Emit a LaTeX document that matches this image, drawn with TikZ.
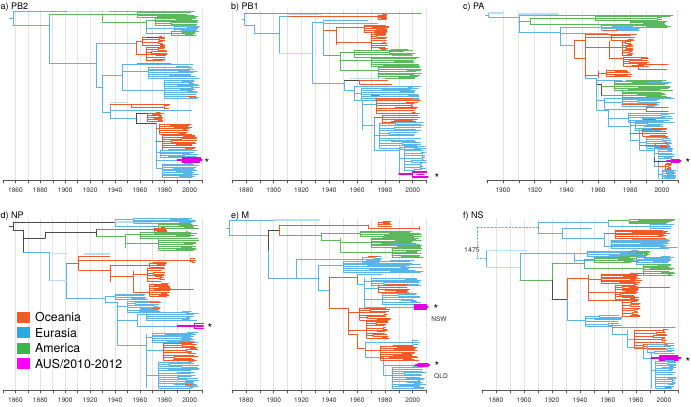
\documentclass[tikz,border=0pt]{standalone}
\usepackage{fontspec}
\setmainfont{TeX Gyre Heros}
\definecolor{ocC}{HTML}{F05A28}
\definecolor{euC}{HTML}{5AB4E5}
\definecolor{eulC}{HTML}{B8DEF3}
\definecolor{amC}{HTML}{5CB85C}
\definecolor{auC}{HTML}{E000E0}
\definecolor{dkC}{HTML}{4A4A4A}
\definecolor{grC}{HTML}{E4E4E4}
\definecolor{axC}{HTML}{555555}
\definecolor{ocL}{HTML}{F15A29}
\definecolor{euL}{HTML}{29ABE2}
\definecolor{amL}{HTML}{39B54A}
\definecolor{auL}{HTML}{FF00FF}
\tikzset{
  eu/.style={draw=euC, line width=0.5pt},
  eul/.style={draw=eulC, line width=1.2pt},
  am/.style={draw=amC, line width=0.5pt},
  oc/.style={draw=ocC, line width=0.8pt},
  au/.style={draw=auC, line width=1.1pt},
  dk/.style={draw=dkC, line width=0.7pt},
  gridl/.style={draw=grC, line width=0.6pt},
  axl/.style={draw=axC, line width=0.5pt},
  lab/.style={font=\fontsize{6.6}{7}\selectfont, text=black!80, inner sep=0pt},
  ttl/.style={font=\fontsize{9}{10}\selectfont, anchor=base west, inner sep=0pt},
  ast/.style={font=\fontsize{12}{12}\selectfont, anchor=base, inner sep=0pt},
  legt/.style={font=\fontsize{12.3}{13}\selectfont, anchor=base west, inner sep=0pt}
}
\newcommand\bush[6]{%
  \draw[#1] (#2,#3) -- (#2,#4);
  \pgfmathtruncatemacro\bn{#6}%
  \foreach \bk in {0,...,\bn}{%
    \pgfmathsetmacro\byy{#3+(#4-#3)*\bk/\bn}%
    \pgfmathsetmacro\bxm{#2+(#5-#2)*(0.2+0.6*rnd)}%
    \pgfmathsetmacro\bhh{(#4-#3)/\bn*0.3}%
    \pgfmathsetmacro\bxa{#5-(#5-#2)*0.22*rnd}%
    \pgfmathsetmacro\bxb{#5-(#5-#2)*0.22*rnd}%
    \pgfmathtruncatemacro\bsp{rnd<0.3?0:1}%
    \ifnum\bsp=1
    \draw[#1] (#2,\byy) -- (\bxm,\byy) (\bxm,\byy-\bhh) -- (\bxm,\byy+\bhh)
      (\bxm,\byy-\bhh) -- (\bxa,\byy-\bhh) (\bxm,\byy+\bhh) -- (\bxb,\byy+\bhh);
    \else
    \draw[#1] (#2,\byy) -- (\bxa,\byy);
    \fi
  }%
}
\newcommand\paxis[7]{%
  \pgfmathtruncatemacro\gsec{#7+10}%
  \foreach \gx in {#7,\gsec,...,#2}{\draw[gridl] (\gx,#6)--(\gx,#3);}%
  \draw[axl] (#1,#3)--(#2,#3);
  \pgfmathtruncatemacro\tsec{#1+10}%
  \foreach \tx in {#1,\tsec,...,#2}{\draw[axl] (\tx,#3)--(\tx,#3+3);}%
  \pgfmathtruncatemacro\lsec{#4+20}%
  \foreach \lx in {#4,\lsec,...,#5}{\node[lab] at (\lx,#3+10) {\lx};}%
}
\begin{document}
\begin{tikzpicture}[x=1pt,y=-1pt,line cap=round,line join=round]
\useasboundingbox (0,0) rectangle (691,407);
\pgfmathsetseed{4242}

% ================= a) PB2
\begin{scope}[x=1.244pt,xshift=-2298.4pt]
\paxis{1850}{2010}{180}{1860}{2000}{10}{1860}
\draw[eu] (1855,18)--(1858,18) (1858,11)--(1858,25) (1858,11)--(2004,11);
\draw[eul] (1902,11.8)--(1935,11.8);
\draw[eu] (1858,25)--(1887,25) (1887,14)--(1887,63);
\draw[am] (1887,14)--(1958,14) (1930,14)--(1930,22) (1930,22)--(1965,22) (1965,20)--(1965,33) (1965,20)--(1972,20) (1965,33)--(1985,33);
\bush{am}{1958}{12.5}{17}{2007}{3}
\bush{am}{1972}{18}{25}{2007}{4}
\draw[eu] (1965,28)--(1988,28);
\bush{eu}{1988}{25}{31}{2008}{4}
\bush{am}{1985}{31}{35}{2007}{2}
\draw[eu] (1887,63)--(1925,63) (1925,43)--(1925,87) (1925,43)--(1957,43);
\draw[oc] (1957,41)--(1957,54) (1957,41)--(1962,41) (1957,54)--(1965,54);
\bush{oc}{1962}{37}{45}{1980}{3}
\bush{oc}{1965}{47}{60}{1982}{5}
\draw[dk] (1966,37)--(1974,37);
\draw[eu] (1925,87)--(1930,87) (1930,75)--(1930,112) (1930,75)--(1946,75) (1946,64)--(1946,90) (1946,64)--(2003,64) (1946,71)--(1967,71) (1946,90)--(1980,90);
\draw[am] (1958,63)--(1985,63);
\bush{eu}{1967}{67}{78}{2008}{6}
\bush{eu}{1980}{80}{98}{2008}{9}
\draw[oc] (1998,96)--(2005,96);
\draw[eu] (1930,112)--(1936,112) (1936,104)--(1936,118) (1936,110)--(2002,110) (1936,118)--(1957,118);
\draw[eul] (1936,102.5)--(1950,102.5);
\draw[oc] (1936,104)--(1984,104) (1953,104)--(1953,107)--(1980,107) (1980,105.5)--(1980,108.5) (1980,105.5)--(1983,105.5) (1980,108.5)--(1983,108.5);
\draw[dk] (1957,113)--(1957,123) (1957,113)--(1966,113) (1957,123)--(1973,123);
\bush{oc}{1966}{113}{121}{1979}{4}
\draw[eu] (1973,123)--(1973,168) (1973,152)--(1976,152) (1973,160)--(1990,160) (1973,168)--(1978,168);
\draw[oc] (1973,128)--(1976,128) (1973,141)--(1978,141);
\bush{oc}{1976}{124}{134}{2002}{5}
\bush{oc}{1978}{135}{150}{2006}{7}
\bush{eu}{1976}{150}{157}{2007}{4}
\draw[au] (1990,160)--(2010,160) (1994,158)--(1994,162) (1994,158)--(2009,158) (1994,162)--(2008,162);
\bush{eu}{1978}{164}{177}{2008}{8}
\end{scope}
\node[ast] at (207,167) {*};
\node[ttl] at (0.5,9) {a) PB2};

% ================= b) PB1
\begin{scope}[x=1.39pt,xshift=-2367.3pt]
\paxis{1870}{2010}{180}{1880}{2000}{10}{1870}
\draw[eu] (1877,19)--(1879,19) (1879,13)--(1879,25);
\draw[am] (1879,13)--(2006,13);
\draw[eu] (1879,25)--(1886,25) (1886,25)--(1886,33) (1886,33)--(1904,33) (1904,16)--(1904,53) (1904,16)--(1911,16) (1904,53)--(1928,53) (1928,22)--(1928,83);
\draw[eul] (1911,14.8)--(1934,14.8) (1904,53.8)--(1928,53.8);
\draw[oc] (1911,16)--(1981,16);
\bush{oc}{1975}{15}{19}{1982}{2}
\draw[eu] (1928,22)--(1936,22) (1936,20)--(1936,55) (1936,20)--(1968,20) (1936,23.5)--(1975,23.5);
\draw[oc] (1936,30)--(1945,30) (1945,27)--(1945,45) (1945,27)--(1965,27) (1945,42)--(1970,42);
\bush{oc}{1965}{25}{32}{1984}{4}
\bush{oc}{1970}{34}{50}{1982}{7}
\draw[am] (1936,55)--(1948,55) (1948,52)--(1948,70) (1948,52)--(1958,52) (1948,70)--(1975,70) (1948,60)--(1970,60);
\bush{am}{1958}{50}{57}{2003}{3}
\bush{am}{1970}{58}{66}{2007}{4}
\bush{am}{1975}{66}{78}{2007}{7}
\draw[eu] (1985,55)--(2000,55);
\draw[eu] (1928,83)--(1951,83) (1951,80)--(1951,90) (1951,90)--(1958,90) (1958,86)--(1958,100) (1958,86)--(2006,86) (1958,93)--(1963,93) (1958,100)--(1964,100) (1964,100)--(1964,130) (1964,104)--(1974,104) (1964,125)--(1972,125) (1972,117)--(1972,150) (1972,135)--(1976,135) (1972,150)--(1990,150) (1990,147)--(1990,174) (1990,158)--(1994,158);
\draw[dk] (1951,80)--(1962,80);
\draw[eul] (1955,78.5)--(1980,78.5);
\draw[oc] (1962,80)--(1982,80) (1962,80)--(1962,84) (1962,84)--(1985,84) (1970,95)--(1976,95) (1972,117)--(1978,117);
\bush{eu}{1963}{88}{100}{2006}{6}
\bush{oc}{1974}{98}{113}{2006}{6}
\bush{oc}{1978}{115}{122}{2006}{3}
\bush{eu}{1976}{123}{148}{2008}{10}
\bush{eu}{1994}{147}{170}{2010}{8}
\draw[au] (1990,174)--(2000,174) (2000,172)--(2000,177) (2000,172)--(2010,172) (2000,177)--(2011,177) (2003,174.5)--(2008,174.5);
\end{scope}
\node[ast] at (437,182) {*};
\node[ttl] at (231,9) {b) PB1};

% ================= c) PA
\begin{scope}[x=1.59pt,xshift=-2518.1pt]
\paxis{1890}{2010}{180}{1900}{2000}{10}{1900}
\draw[eu] (1889,15)--(1891,15) (1891,13)--(1891,17) (1891,13)--(1898,13) (1891,17)--(1910,17) (1910,15)--(1910,32) (1910,15)--(1927,15);
\draw[eul] (1891,13)--(1900,13) (1910,14)--(1935,14);
\draw[am] (1927,15)--(2007,15) (1910,21)--(1917,21) (1917,18)--(1917,24) (1917,18)--(1958,18) (1917,24)--(1980,24);
\bush{am}{1958}{16.5}{20}{2007}{2}
\bush{am}{1980}{21}{27}{2007}{4}
\draw[eu] (1910,32)--(1936,32) (1936,27)--(1936,45) (1936,27)--(1962,27) (1936,45)--(1945,45) (1936,33)--(1966,33);
\bush{eu}{1962}{25.5}{30}{1986}{3}
\draw[oc] (1963,30.5)--(1972,30.5);
\draw[oc] (1945,40)--(1945,58) (1945,40)--(1952,40) (1952,34)--(1952,78) (1952,34)--(1984,34) (1952,37)--(1968,37) (1952,47)--(1967,47) (1967,41)--(1967,58) (1967,47)--(1975,47) (1967,58)--(1976,58) (1952,75)--(1960,75) (1960,71)--(1960,78) (1945,58)--(1952,58);
\bush{oc}{1968}{35}{40}{1983}{2}
\bush{oc}{1975}{40}{55}{1982}{6}
\bush{oc}{1976}{57}{66}{1992}{4}
\draw[oc] (1976,66)--(1985,66) (1985,64)--(1985,69) (1985,64)--(2004,64) (1985,69)--(2003,69) (1960,73)--(1965,73);
\bush{oc}{1965}{70}{76}{1981}{3}
\draw[eu] (1952,78)--(1959,78) (1959,78)--(1959,110) (1959,80)--(1975,80) (1959,100)--(1964,100) (1964,98)--(1964,109) (1964,98)--(2008,98) (1964,102)--(1975,102) (1964,109)--(1990,109);
\draw[dk] (1959,84)--(1962,84) (1962,84)--(1962,96);
\draw[am] (1962,86)--(1970,86) (1962,95)--(1975,95);
\bush{am}{1970}{81}{90}{2007}{5}
\bush{am}{1975}{90}{97}{2006}{4}
\draw[eu] (1990,82)--(2006,82);
\bush{eu}{1975}{99}{106}{2000}{3}
\draw[oc] (1975,104.5)--(1996,104.5) (1990,107)--(1990,111) (1990,107)--(2004,107) (1990,111)--(2004,111);
\draw[eu] (1959,110)--(1966,110) (1966,110)--(1966,126) (1966,118)--(1979,118) (1966,126)--(1980,126) (1980,120)--(1980,140) (1980,125)--(1983,125) (1980,140)--(1986,140) (1986,128)--(1986,150) (1986,142)--(1990,142) (1986,150)--(1995,150) (1995,146)--(1995,166) (1995,153)--(1998,153) (1995,166)--(1998,166) (1998,160)--(1998,178) (1998,174)--(2000,174);
\bush{eu}{1979}{113}{122}{2008}{4}
\bush{eu}{1983}{121}{130}{2003}{4}
\draw[oc] (1988,119)--(1996,119) (1980,133)--(1988,133) (1998,166)--(2002,166);
\bush{oc}{1988}{129}{136}{2004}{3}
\bush{eu}{1990}{137}{148}{2007}{5}
\draw[oc] (1986,145)--(1996,145);
\bush{oc}{1996}{143}{147}{2004}{2}
\bush{eu}{1998}{148}{158}{2008}{6}
\draw[dk] (1995,161)--(2003,161) (1995,158)--(1995,161);
\draw[au] (2003,161)--(2012,161) (2006,159.5)--(2006,162.5) (2006,159.5)--(2011,159.5) (2006,162.5)--(2011,162.5);
\bush{oc}{2002}{164}{169}{2006}{2}
\bush{eu}{2000}{170}{178}{2009}{5}
\end{scope}
\node[ast] at (688,167) {*};
\node[ttl] at (463,9) {c) PA};

% ================= d) NP
\begin{scope}[x=1.244pt,xshift=-2298.4pt]
\paxis{1850}{2010}{390}{1860}{2000}{219}{1860}
\draw[dk] (1855,226)--(1858,226) (1858,222)--(1858,230) (1858,222)--(1940,222) (1858,230)--(1866,230) (1866,230)--(1866,252) (1866,238)--(1884,238) (1884,232)--(1884,238) (1884,232)--(1925,232) (1925,229)--(1925,236);
\draw[eu] (1940,219)--(1940,226) (1940,219)--(1955,219) (1940,226)--(1975,226);
\draw[eul] (1940,222)--(1970,222);
\bush{eu}{1955}{218.5}{223}{2008}{3}
\bush{am}{1975}{223}{228}{2008}{3}
\draw[oc] (1925,229)--(1981,229);
\bush{oc}{1972}{228}{232}{1982}{2}
\draw[am] (1925,236)--(1948,236) (1948,234)--(1948,248) (1948,234)--(1960,234) (1948,243)--(1975,243);
\bush{am}{1960}{232}{238}{2007}{3}
\bush{am}{1975}{238}{250}{2008}{6}
\draw[eu] (1866,252)--(1887,252) (1887,252)--(1887,280) (1887,253)--(1902,253) (1887,280)--(1901,280) (1901,263)--(1901,298) (1901,298)--(1932,298);
\draw[eul] (1887,253.8)--(1902,253.8) (1887,280.8)--(1901,280.8) (1915,254)--(1936,254);
\draw[oc] (1901,263)--(1911,263) (1911,256)--(1911,270) (1911,256)--(1936,256) (1911,260)--(2003,260) (1911,270)--(1936,270) (1936,265)--(1936,282) (1936,265)--(1968,265) (1936,276)--(1955,276) (1955,271)--(1955,292) (1955,274)--(1966,274) (1955,292)--(1968,292) (1985,289)--(2003,289);
\bush{oc}{2001}{258.5}{261.5}{2005}{1}
\bush{oc}{1968}{263}{267}{1982}{2}
\bush{oc}{1966}{268}{281}{1980}{5}
\bush{oc}{1968}{284}{296}{1985}{6}
\draw[eu] (1932,296)--(1932,302) (1932,296)--(1940,296) (1932,302)--(1942,302) (1942,302)--(1942,345) (1942,306)--(1950,306) (1942,320)--(1958,320) (1958,314)--(1958,326) (1958,314)--(1965,314) (1958,326)--(1990,326) (1942,345)--(1965,345) (1965,334)--(1965,388) (1965,337)--(1970,337) (1965,350)--(1979,350) (1965,375)--(1975,375);
\bush{eu}{1940}{294}{299}{1968}{3}
\bush{eu}{1950}{301}{312}{1978}{5}
\draw[oc] (1968,302)--(1976,302) (1970,308)--(1976,308) (1977,320)--(1984,320);
\bush{eu}{1965}{312}{320}{2008}{4}
\draw[au] (1990,326)--(2011,326) (2004,323.5)--(2004,328.5) (2004,323.5)--(2011,323.5) (2004,328.5)--(2011,328.5);
\bush{eu}{1970}{333}{342}{2008}{5}
\bush{oc}{1979}{343}{360}{2007}{7}
\bush{eu}{1975}{362}{388}{2008}{12}
\draw[oc] (1997,384)--(2002,384);
\end{scope}
\node[ast] at (210,332) {*};
\node[ttl] at (0.5,218) {d) NP};

% ================= e) M
\begin{scope}[x=1.39pt,xshift=-2367.3pt]
\paxis{1870}{2010}{390}{1880}{2000}{219}{1870}
\draw[eu] (1866,228)--(1868,228) (1868,220)--(1868,235) (1868,220)--(1901,220) (1868,235)--(1896,235) (1896,250)--(1896,278) (1896,278)--(1916,278) (1916,259)--(1916,278);
\draw[eul] (1901,220)--(1933,220);
\draw[dk] (1896,230)--(1896,250) (1896,230)--(1904,230);
\draw[oc] (1904,225)--(1904,235) (1904,225)--(1968,225) (1968,225)--(1968,228) (1968,228)--(2005,228) (2005,226.5)--(2005,229.5);
\bush{oc}{1975}{222}{226}{1985}{2}
\draw[am] (1904,235)--(1934,235) (1934,233)--(1934,240) (1934,233)--(1962,233) (1934,240)--(1948,240) (1948,238)--(1948,252) (1948,242)--(1970,242) (1948,252)--(1985,252);
\bush{am}{1962}{231}{236}{2007}{3}
\bush{am}{1970}{238}{247}{2007}{6}
\bush{am}{1985}{247}{257}{2008}{6}
\draw[eu] (1985,244)--(2003,244);
\draw[eu] (1916,259)--(1964,259) (1916,278)--(1932,278) (1932,265)--(1932,290) (1932,265)--(1950,265) (1932,290)--(1940,290);
\bush{eu}{1964}{257}{262}{1978}{2}
\draw[oc] (1968,256.5)--(1975,256.5);
\bush{eu}{1950}{261}{272}{2008}{6}
\draw[oc] (1940,277)--(1940,308) (1940,277)--(1960,277) (1960,274)--(1960,284);
\draw[eu] (1960,274)--(1978,274) (1960,284)--(1965,284) (1965,278)--(1965,307) (1965,281)--(1970,281) (1965,288)--(1975,288) (1965,299)--(1978,299) (1965,307)--(2001,307);
\bush{eu}{1970}{278}{285}{2008}{4}
\bush{oc}{1975}{285}{292}{1998}{3}
\bush{eu}{1978}{293}{304}{2006}{5}
\draw[au] (2001,307)--(2011,307) (2001,305)--(2001,309) (2001,305)--(2010,305) (2001,309)--(2010,309);
\draw[oc] (1940,308)--(1954,308) (1954,308)--(1954,334) (1954,312)--(1962,312) (1954,330)--(1967,330) (1954,334)--(1960,334) (1960,334)--(1960,348) (1960,348)--(1966,348);
\bush{oc}{1962}{308}{320}{1985}{5}
\bush{oc}{1967}{321}{338}{1983}{7}
\draw[eu] (1966,342)--(1966,357) (1966,342)--(2005,342) (2000,340)--(2000,344) (2000,340)--(2004,340) (2000,344)--(2004,344) (1966,357)--(1979,357) (1979,357)--(1979,375) (1979,365)--(2002,365) (1979,375)--(1985,375);
\draw[oc] (1966,350)--(1977,350);
\bush{oc}{1977}{346}{360}{2005}{7}
\bush{eu}{1985}{367}{388}{2010}{10}
\draw[au] (2002,365)--(2012,365) (2004,363.5)--(2004,366.5) (2004,363.5)--(2011,363.5) (2004,366.5)--(2011,366.5);
\end{scope}
\node[ast] at (436,313.2) {*};
\node[lab] at (439,318.6) {NSW};
\node[ast] at (437,370.6) {*};
\node[lab] at (441,376) {QLD};
\node[ttl] at (231,218) {e) M};

% ================= f) NS
\begin{scope}[x=1.4pt,xshift=-2136pt]
\paxis{1870}{2010}{390}{1880}{2000}{219}{1880}
\draw[eu,dash pattern=on 2pt off 1.5pt] (1866.4,227)--(1910,227) (1866.4,227)--(1866.4,258) (1866.4,258)--(1873,258);
\draw[eu] (1910,222)--(1910,233) (1910,222)--(1960,222) (1960,220)--(1960,226) (1960,226)--(1990,226) (1910,233)--(1927,233) (1927,228)--(1927,238) (1927,228)--(1948,228) (1927,238)--(1957,238) (1957,233)--(1957,246) (1957,246)--(1962,246);
\draw[am] (1960,220)--(1975,220);
\bush{am}{1975}{219.5}{223.5}{2008}{3}
\bush{eu}{1990}{224}{228}{2008}{2}
\draw[oc] (1957,233)--(1965,233);
\bush{oc}{1965}{230}{238}{2005}{5}
\bush{eu}{1962}{240}{248}{2010}{6}
\draw[eu] (1873,250)--(1873,267) (1873,250)--(1902,250) (1873,267)--(1897,267) (1897,253)--(1897,280) (1897,253)--(1945,253) (1936,253)--(1936,262) (1936,260)--(1980,260);
\draw[eul] (1873,267.8)--(1897,267.8) (1873,250.8)--(1902,250.8);
\bush{eu}{1945}{251}{256}{1990}{3}
\bush{am}{1975}{251}{255}{1990}{2}
\bush{eu}{1980}{257}{264}{2008}{4}
\draw[am] (1897,280)--(1920,280) (1920,263)--(1920,280) (1920,263)--(1943,263) (1943,259)--(1943,268) (1943,259)--(1950,259) (1943,268)--(1985,268);
\bush{am}{1950}{257}{262}{1982}{3}
\bush{am}{1985}{264}{275}{2008}{6}
\draw[eu] (1995,265)--(2005,265);
\draw[dk] (1920,280)--(1920,299) (1920,299)--(1931,299);
\draw[oc] (1931,278)--(1931,300) (1931,278)--(1946,278) (1946,275)--(1946,300) (1946,279)--(1955,279) (1946,292)--(1965,292) (1946,300)--(1970,300) (1975,287)--(2004,287);
\bush{oc}{1955}{274}{283}{1985}{6}
\bush{oc}{1965}{285}{299}{1982}{6}
\bush{oc}{1970}{300}{316}{1983}{6}
\draw[eul] (1931,300)--(1931,320);
\draw[eu] (1931,300)--(1931,320) (1931,320)--(1944,320) (1944,317)--(1944,326) (1944,326)--(1963,326) (1963,323)--(1963,334) (1963,334)--(1974,334) (1974,330)--(1974,347) (1974,339)--(1979,339) (1974,347)--(1985,347) (1985,345)--(1985,358) (1985,348)--(1988,348) (1985,358)--(1991,358) (1991,352)--(1991,388) (1991,370)--(1994,370);
\bush{eu}{1944}{316}{324}{1972}{3}
\draw[am] (1963,327)--(2008,327);
\bush{oc}{1979}{330}{348}{2005}{6}
\bush{eu}{1988}{344}{352}{2008}{3}
\draw[au] (1991,358)--(2012,358) (1997,356)--(1997,360) (1997,356)--(2010,356) (1997,360)--(2010,360);
\bush{eu}{1994}{361}{388}{2009}{12}
\draw[oc] (2001,387)--(2005,387);
\end{scope}
\node[lab,fill=white,inner sep=0.6pt,font=\fontsize{7}{8}\selectfont] at (472,250) {1475};
\node[ast] at (688,366) {*};
\node[ttl] at (463,218) {f) NS};

% ================= legend
\fill[ocL] (17,311.5) rectangle (30,322.5);
\fill[euL] (17,327) rectangle (30,338);
\fill[amL] (17,342.5) rectangle (30,353.5);
\fill[auL] (17,358) rectangle (30,369);
\node[legt] at (35,321.5) {Oceania};
\node[legt] at (35,337) {Eurasia};
\node[legt] at (35,352.5) {America};
\node[legt] at (35,368) {AUS/2010-2012};
\end{tikzpicture}
\end{document}
